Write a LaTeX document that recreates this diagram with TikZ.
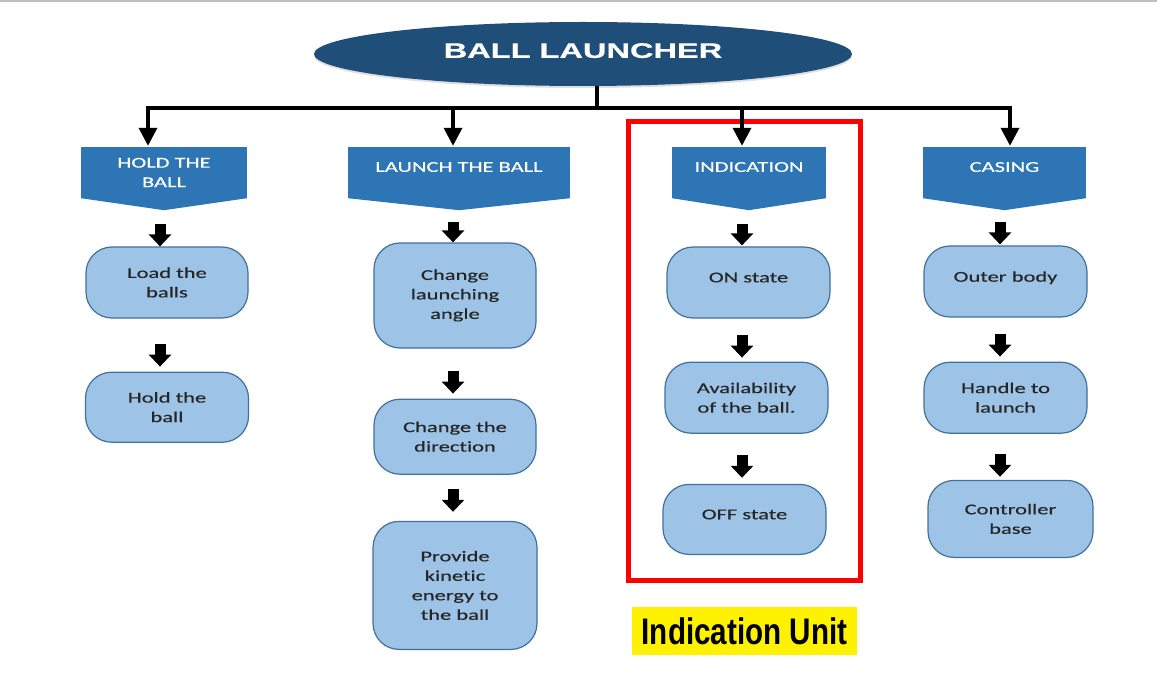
\documentclass[tikz,border=0pt]{standalone}
\usepackage{fontspec}
\setmainfont[FakeStretch=1.5,FakeBold=0.3,Ligatures=NoCommon]{Carlito}
\newfontfamily\titlefont[FakeStretch=1.55,FakeBold=0.6]{Liberation Sans}
\newfontfamily\unitfont[FakeStretch=0.8]{Liberation Sans}
\usepackage{xcolor}
\usepackage{tikz}
\usetikzlibrary{arrows.meta,positioning,fit,shapes.geometric,shadows}

\definecolor{titleblue}{HTML}{1F4E79}
\definecolor{hdrblue}{HTML}{2E75B6}
\definecolor{boxfill}{HTML}{9DC3E6}
\definecolor{boxline}{HTML}{41719C}

\begin{document}
\begin{tikzpicture}[
  x=1pt,y=-1pt,
  font=\fontsize{15}{19.5}\selectfont,
  mainnode/.style={ellipse,fill=titleblue,text=white,minimum width=538pt,minimum height=64pt,inner sep=0pt,
    font=\titlefont\bfseries\fontsize{21}{24}\selectfont,text depth=7pt,
    drop shadow={opacity=0.25,shadow xshift=0pt,shadow yshift=-2pt}},
  hdr/.style={fill=hdrblue,text=white,align=center,minimum height=51pt,inner sep=0pt},
  box/.style={draw=boxline,fill=boxfill,line width=1.2pt,rounded corners=26pt,align=center,text=black!85,inner sep=0pt},
  oneline/.style={text depth=10pt},
  arr/.style={-{Triangle[width=18pt,length=18pt]},line width=3.5pt},
  blk/.style={-{Triangle[width=22pt,length=12pt]},line width=11pt},
  unitframe/.style={draw=red,line width=5pt,inner xsep=34pt,inner ysep=25.5pt},
  unitlabel/.style={fill=yellow,font=\unitfont\bfseries\fontsize{37}{40}\selectfont,minimum width=225pt,minimum height=48pt,inner sep=0pt}
]
\useasboundingbox (0,0) rectangle (1157,687);
\draw[black!25,line width=2pt] (0,1) -- (1157,1);

% title
\node[mainnode] (launcher) at (583,54) {BALL LAUNCHER};

% function headers
\node[hdr,minimum width=166pt] (hold) at (164,172.5) {HOLD THE\\BALL};
\node[hdr,minimum width=222pt,text depth=11pt] (launch) at (459,172.5) {LAUNCH THE BALL};
\node[hdr,minimum width=154pt,text depth=11pt] (ind) at (749,172.5) {INDICATION};
\node[hdr,minimum width=163pt,text depth=11pt] (casing) at (1004.5,172.5) {CASING};
\foreach \h in {hold,launch,ind,casing}
  \fill[hdrblue] (\h.south west) -- ([yshift=-12pt]\h.south) -- (\h.south east) -- cycle;

% sub-functions
\node[box,minimum width=162pt,minimum height=71pt] (load) at (167,282.5) {Load the\\balls};
\node[box,minimum width=163pt,minimum height=70pt,below=53pt of load] (holdball) {Hold the\\ball};

\node[box,minimum width=162pt,minimum height=105pt] (angle) at (455,295.5) {Change\\launching\\angle};
\node[box,minimum width=162pt,minimum height=75pt,below=50pt of angle] (dir) {Change the\\direction};
\node[box,minimum width=164pt,minimum height=128pt,below=46pt of dir] (kin) {Provide\\kinetic\\energy to\\the ball};

\node[box,oneline,minimum width=163pt,minimum height=71pt] (on) at (748.5,282.5) {ON state};
\node[box,minimum width=163pt,minimum height=71pt,below=43pt of on,xshift=-2pt] (avail) {Availability\\of the ball.};
\node[box,oneline,minimum width=163pt,minimum height=70pt,below=50pt of avail,xshift=-2pt] (off) {OFF state};

\node[box,oneline,minimum width=163pt,minimum height=71pt] (outer) at (1005.5,281.5) {Outer body};
\node[box,minimum width=163pt,minimum height=71pt,below=44pt of outer] (handle) {Handle to\\launch};
\node[box,minimum width=165pt,minimum height=77pt,below=46pt of handle,xshift=5pt] (ctrl) {Controller\\base};

% indication unit
\node[unitframe,fit=(ind)(off)] (frame) {};
\node[unitlabel,below=24pt of frame] (unitlbl) {Indication Unit};

% tree
\coordinate (bus) at (597,108);
\draw[line width=3.5pt] (bus |- launcher.south) -- (bus);
\draw[arr,shorten >=1pt] (bus) -| ([xshift=-16pt]hold.north);
\draw[arr,shorten >=1pt] (bus) -| ([xshift=-6pt]launch.north);
\draw[arr,shorten >=1pt] (bus) -| ([xshift=-7pt]ind.north);
\draw[arr,shorten >=1pt] (bus) -| ([xshift=5.5pt]casing.north);

% block arrows
\draw[blk,shorten <=26pt] ([xshift=-7pt]load.north |- hold.south) -- ([xshift=-7pt]load.north);
\draw[blk,shorten <=25pt,shorten >=5pt] ([xshift=-7pt]holdball.north |- load.south) -- ([xshift=-7pt]holdball.north);
\draw[blk,shorten <=24pt] ([xshift=-2pt]angle.north |- launch.south) -- ([xshift=-2pt]angle.north);
\draw[blk,shorten <=22pt,shorten >=5pt] ([xshift=-2pt]dir.north |- angle.south) -- ([xshift=-2pt]dir.north);
\draw[blk,shorten <=14pt,shorten >=9pt] ([xshift=-2pt]kin.north |- dir.south) -- ([xshift=-2pt]kin.north);
\draw[blk,shorten <=26pt,shorten >=1pt] ([xshift=-6.5pt]on.north |- ind.south) -- ([xshift=-6.5pt]on.north);
\draw[blk,shorten <=16pt,shorten >=4pt] ([xshift=-4.5pt]avail.north |- on.south) -- ([xshift=-4.5pt]avail.north);
\draw[blk,shorten <=21pt,shorten >=6pt] ([xshift=-2.5pt]off.north |- avail.south) -- ([xshift=-2.5pt]off.north);
\draw[blk,shorten <=24pt,shorten >=1pt] ([xshift=-5.5pt]outer.north |- casing.south) -- ([xshift=-5.5pt]outer.north);
\draw[blk,shorten <=16pt,shorten >=5pt] ([xshift=-5.5pt]handle.north |- outer.south) -- ([xshift=-5.5pt]handle.north);
\draw[blk,shorten <=20pt,shorten >=3pt] ([xshift=-10.5pt]ctrl.north |- handle.south) -- ([xshift=-10.5pt]ctrl.north);
\end{tikzpicture}
\end{document}
